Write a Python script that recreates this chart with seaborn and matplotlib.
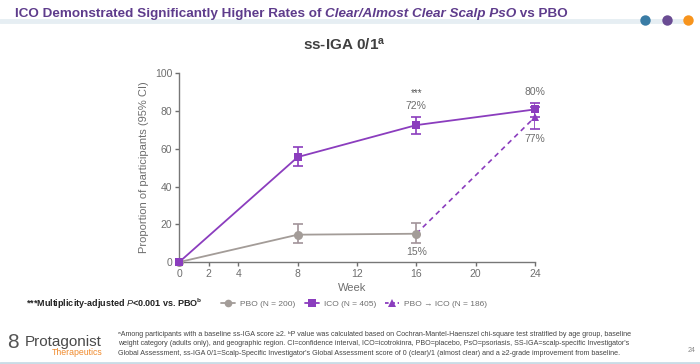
import numpy as np
import pandas as pd
import matplotlib
matplotlib.use("Agg")
import matplotlib.pyplot as plt
import seaborn as sns
from matplotlib.lines import Line2D
from matplotlib.transforms import offset_copy

# data
weeks_pbo = [0, 8, 16]
pbo_vals = [0, 14.5, 15]
pbo_lo = [0, 10, 10]
pbo_hi = [0, 20, 20.6]

weeks_ico = [0, 8, 16, 24]
ico_vals = [0, 55.6, 72.5, 80.8]
ico_lo = [0, 51, 68, 77]
ico_hi = [0, 61, 77, 84]

weeks_switch = [16, 24]
switch_vals = [15, 76.7]
switch_lo = [15, 70.4]
switch_hi = [15, 82]

x_ticks = [0, 2, 4, 8, 12, 16, 20, 24]
y_ticks = [0, 20, 40, 60, 80, 100]

PURPLE = "#8B3DBE"
GRAY = "#A39C98"
TXT = "#6E6E6E"

sns.set_theme(style="ticks")
plt.rcParams["font.family"] = ["Liberation Sans", "DejaVu Sans"]
plt.rcParams["mathtext.fontset"] = "custom"
plt.rcParams["mathtext.rm"] = "Liberation Sans"
plt.rcParams["mathtext.it"] = "Liberation Sans:italic"
plt.rcParams["mathtext.bf"] = "Liberation Sans:bold"

fig = plt.figure(figsize=(7, 3.64), dpi=100)
ax = fig.add_axes([0.256, 0.280, 0.508, 0.519])

pbo = pd.DataFrame({"week": weeks_pbo, "val": pbo_vals})
ico = pd.DataFrame({"week": weeks_ico, "val": ico_vals})
sw = pd.DataFrame({"week": weeks_switch, "val": switch_vals})

sns.lineplot(data=sw, x="week", y="val", ax=ax, color=PURPLE, lw=1.2,
             linestyle=(0, (3, 2.5)), marker="^", markersize=6, markeredgewidth=0,
             markevery=[1], zorder=3)
sns.lineplot(data=pbo, x="week", y="val", ax=ax, color=GRAY, lw=1.3,
             marker="o", markersize=6.5, markeredgewidth=0, zorder=4)
sns.lineplot(data=ico, x="week", y="val", ax=ax, color=PURPLE, lw=1.3,
             marker="s", markersize=6, markeredgewidth=0, zorder=5)

def ci(xs, v, lo, hi, color):
    v = np.array(v)
    err_lo = v - np.array(lo)
    err_hi = np.array(hi) - v
    ax.errorbar(xs[1:], v[1:], yerr=[err_lo[1:], err_hi[1:]], fmt="none",
                ecolor=color, elinewidth=1.2, capsize=3.6, capthick=1.2, zorder=3)

ci(weeks_pbo, pbo_vals, pbo_lo, pbo_hi, "#A2949A")
ci(weeks_ico, ico_vals, ico_lo, ico_hi, PURPLE)
ci(weeks_switch, switch_vals, switch_lo, switch_hi, PURPLE)

ax.set_xlim(0, 24)
ax.set_ylim(0, 100)
ax.set_xticks(x_ticks)
ax.set_yticks(y_ticks)
ax.tick_params(colors=TXT, labelsize=7.5, length=3, width=1, pad=2)
for s in ["left", "bottom"]:
    ax.spines[s].set_color("#777777")
    ax.spines[s].set_linewidth(1)
sns.despine(ax=ax)
for line in ax.lines:
    line.set_clip_on(False)
ax.set_xlabel("")
ax.set_ylabel("Proportion of participants (95% CI)", fontsize=8, color=TXT, labelpad=4)

# value labels
ax.text(16, 82.5, "72%", ha="center", va="center", fontsize=7.5, color=TXT)
ax.text(16, 89.5, "***", ha="center", va="center", fontsize=7, color="#555555")
ax.text(24, 90, "80%", ha="center", va="center", fontsize=7.5, color=TXT)
ax.text(24, 65, "77%", ha="center", va="center", fontsize=7.5, color=TXT)
ax.text(16, 5.3, "15%", ha="center", va="center", fontsize=7.5, color=TXT)

fig.text(0.503, 0.21, "Week", ha="center", va="center", fontsize=8, color=TXT)

# header: title in pieces (regular / italic / regular), placed one after another
renderer = fig.canvas.get_renderer()
pieces = [("ICO Demonstrated Significantly Higher Rates of ", "normal"),
          ("Clear/Almost Clear Scalp PsO", "italic"),
          (" vs PBO", "normal")]
x_px = 0.021 * fig.bbox.width
for txt, style in pieces:
    t = fig.text(0, 0.978, txt, ha="left", va="top", fontsize=9.7, fontweight="bold",
                 fontstyle=style, color="#5E3C8C",
                 transform=offset_copy(fig.transFigure, fig=fig, x=x_px * 72 / fig.dpi,
                                       y=0, units="points"))
    x_px += t.get_window_extent(renderer).width

fig.add_artist(Line2D([0, 0.985], [0.942, 0.942], transform=fig.transFigure,
                      color="#E6EEF3", lw=3.5))
for xd, c in zip([0.921, 0.953, 0.983], ["#3A7CA5", "#6A4C93", "#F7941D"]):
    fig.add_artist(Line2D([xd], [0.945], transform=fig.transFigure, marker="o",
                          markersize=7.5, color=c, markeredgewidth=0))
fig.text(0.492, 0.877, r"ss-IGA 0/1$^{\mathbf{a}}$", ha="center", va="center",
         fontsize=11, fontweight="bold", color="#404040")

# legend
fig.text(0.037, 0.165, r"***Multiplicity-adjusted $\mathbf{\mathit{P}}$<0.001 vs. PBO$^{\mathbf{b}}$",
         ha="left", va="center", fontsize=6.5, fontweight="bold", color="#222222")
handles = [
    Line2D([0], [0], color=GRAY, marker="o", markersize=5.5, lw=1.3, markeredgewidth=0),
    Line2D([0], [0], color=PURPLE, marker="s", markersize=5.5, lw=1.3, markeredgewidth=0),
    Line2D([0], [0], color=PURPLE, marker="^", markersize=5.5, lw=1.3,
           linestyle=(0, (2, 1.5)), markeredgewidth=0),
]
labels = ["PBO (N = 200)", "ICO (N = 405)", "PBO \u2192 ICO (N = 186)"]
fig.legend(handles, labels, loc="center left", bbox_to_anchor=(0.305, 0.165),
           ncol=3, frameon=False, fontsize=6, handlelength=1.7, handletextpad=0.6,
           columnspacing=1.1, labelcolor=TXT)

# footnote
foot = ("\u1d43Among participants with a baseline ss-IGA score \u22652. \u1d47P value was calculated based on "
        "Cochran-Mantel-Haenszel chi-square test stratified by age group, baseline\n"
        "weight category (adults only), and geographic region. CI=confidence interval, ICO=icotrokinra, "
        "PBO=placebo, PsO=psoriasis, SS-IGA=scalp-specific Investigator's\n"
        "Global Assessment, ss-IGA 0/1=Scalp-Specific Investigator's Global Assessment score of 0 "
        "(clear)/1 (almost clear) and a \u22652-grade improvement from baseline.")
fig.text(0.169, 0.055, foot, ha="left", va="center", fontsize=5.1, color="#444444",
         linespacing=1.45)
fig.text(0.988, 0.036, "24", ha="center", va="center", fontsize=5, color="#888888")

# logo
fig.text(0.010, 0.058, "8", ha="left", va="center", fontsize=15, color="#555555")
fig.text(0.036, 0.06, "Protagonist", ha="left", va="center", fontsize=11, color="#4A4A4A")
fig.text(0.147, 0.031, "Therapeutics", ha="right", va="center", fontsize=6.3, color="#F08A2C")
fig.add_artist(Line2D([0, 1], [0.004, 0.004], transform=fig.transFigure,
                      color="#C9DCE6", lw=2))

fig.savefig("out.png", dpi=100)
